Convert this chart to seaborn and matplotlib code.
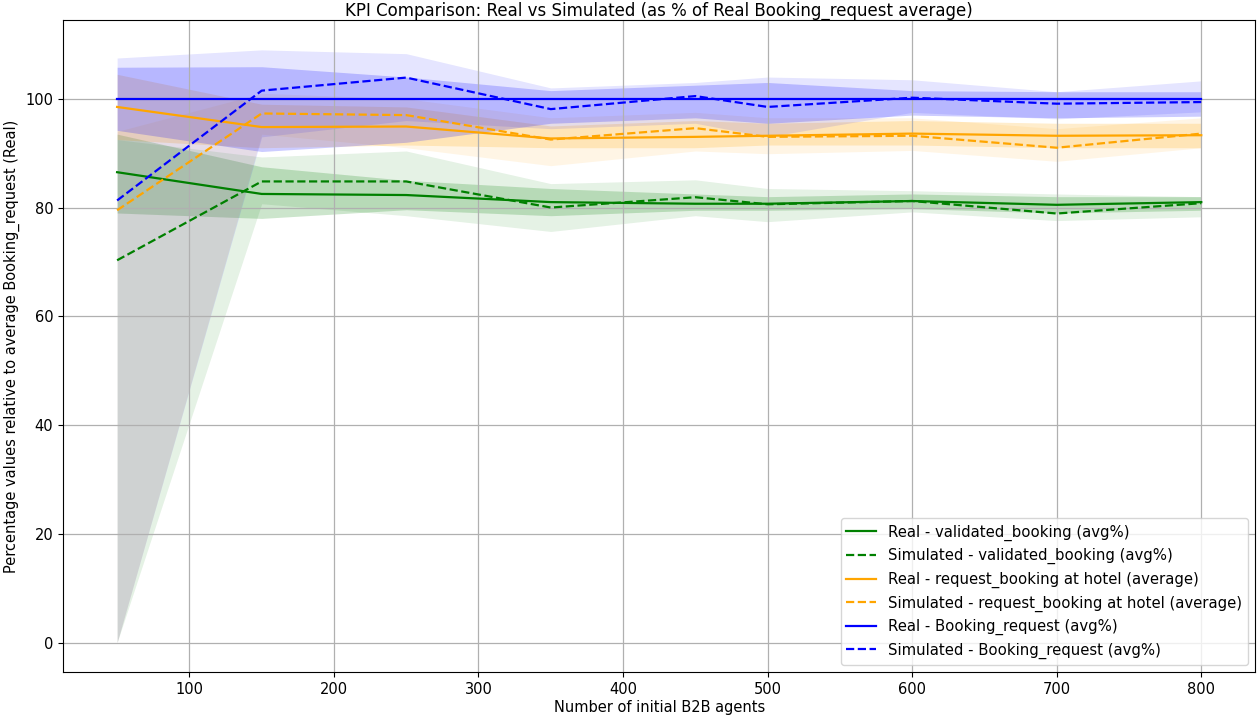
import matplotlib
matplotlib.use("Agg")
import matplotlib.pyplot as plt
import seaborn as sns
import numpy as np

# ---- data ----
agents = [50, 150, 250, 350, 450, 500, 600, 700, 800]

real_valid = [86.5, 82.5, 82.3, 81.0, 80.7, 80.7, 81.2, 80.5, 81.0]
real_valid_lo = [79.0, 78.0, 79.6, 78.5, 79.5, 79.5, 79.8, 79.0, 79.5]
real_valid_hi = [93.5, 87.5, 85.0, 83.5, 82.5, 82.0, 82.5, 82.0, 82.0]
sim_valid = [70.3, 84.8, 84.8, 80.0, 81.9, 80.6, 81.2, 78.9, 80.8]
sim_valid_lo = [0.0, 80.7, 78.5, 75.6, 78.5, 77.4, 79.2, 77.6, 78.3]
sim_valid_hi = [92.5, 89.3, 90.4, 84.4, 85.1, 83.5, 83.1, 82.5, 82.0]

real_hotel = [98.5, 94.8, 94.9, 92.7, 93.0, 93.2, 93.6, 93.2, 93.3]
real_hotel_lo = [92.5, 91.0, 91.5, 91.0, 91.0, 91.5, 91.5, 91.0, 91.0]
real_hotel_hi = [104.5, 99.0, 98.5, 95.0, 96.0, 95.5, 96.0, 95.5, 95.5]
sim_hotel = [79.5, 97.3, 97.0, 92.5, 94.6, 93.0, 93.2, 91.0, 93.6]
sim_hotel_lo = [0.0, 93.5, 91.0, 87.7, 90.4, 89.9, 90.5, 88.5, 91.0]
sim_hotel_hi = [94.0, 101.0, 100.0, 96.5, 97.5, 96.5, 96.5, 94.5, 96.5]

real_booking = [100.0, 100.0, 100.0, 100.0, 100.0, 100.0, 100.0, 100.0, 100.0]
real_booking_lo = [94.2, 90.3, 92.0, 95.5, 96.5, 95.5, 97.0, 96.5, 96.8]
real_booking_hi = [105.8, 105.9, 104.0, 101.5, 102.5, 103.0, 101.5, 101.3, 101.3]
sim_booking = [81.3, 101.5, 103.9, 98.1, 100.5, 98.5, 100.2, 99.1, 99.4]
sim_booking_lo = [0.0, 93.0, 96.0, 94.5, 95.5, 93.0, 97.5, 96.3, 97.6]
sim_booking_hi = [107.5, 109.0, 108.3, 102.0, 103.0, 104.0, 103.5, 101.3, 103.3]

labels = [
    "Real - validated_booking (avg%)",
    "Simulated - validated_booking (avg%)",
    "Real - request_booking at hotel (average)",
    "Simulated - request_booking at hotel (average)",
    "Real - Booking_request (avg%)",
    "Simulated - Booking_request (avg%)",
]

plt.rcParams['font.family'] = ['DejaVu Sans']
fig, ax = plt.subplots(figsize=(12.58, 7.22), dpi=100)
fig.subplots_adjust(left=0.050, right=0.998, top=0.972, bottom=0.069)

series = [
    (real_valid, real_valid_lo, real_valid_hi, sim_valid, sim_valid_lo, sim_valid_hi, "green"),
    (real_hotel, real_hotel_lo, real_hotel_hi, sim_hotel, sim_hotel_lo, sim_hotel_hi, "orange"),
    (real_booking, real_booking_lo, real_booking_hi, sim_booking, sim_booking_lo, sim_booking_hi, "blue"),
]

for i, (r, rlo, rhi, s, slo, shi, col) in enumerate(series):
    sns.lineplot(x=agents, y=r, color=col, linestyle="-", linewidth=1.6,
                 label=labels[2 * i], ax=ax)
    ax.fill_between(agents, rlo, rhi, color=col, alpha=0.2, linewidth=0)
    sns.lineplot(x=agents, y=s, color=col, linestyle="--", linewidth=1.6,
                 label=labels[2 * i + 1], ax=ax)
    ax.fill_between(agents, slo, shi, color=col, alpha=0.1, linewidth=0)

ax.set_title("KPI Comparison: Real vs Simulated (as % of Real Booking_request average)",
             fontsize=12, pad=3)
ax.set_xlabel("Number of initial B2B agents", fontsize=10.5, labelpad=2)
ax.set_ylabel("Percentage values relative to average Booking_request (Real)", fontsize=10.5)
ax.grid(True, color="#b0b0b0", linewidth=0.9)
ax.tick_params(labelsize=10.5)
ax.legend(loc="lower right", fontsize=10.7)

fig.savefig("out.png", dpi=100)
